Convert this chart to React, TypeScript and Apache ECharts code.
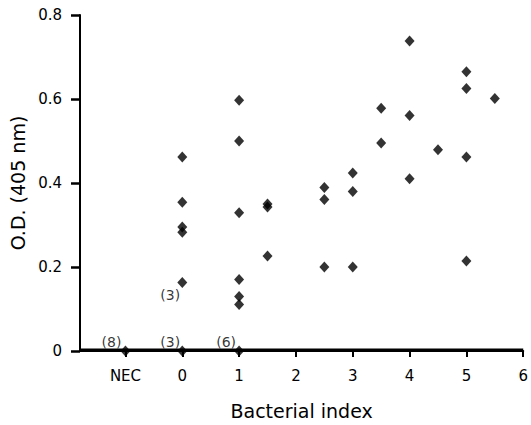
import React, { useEffect, useRef } from "react";
import * as echarts from "echarts";

// Bacterial index (NEC shown at -1) and O.D. readings
const pointX: number[] = [
  -1,
  0, 0, 0, 0, 0, 0,
  1, 1, 1, 1, 1, 1, 1,
  1.5, 1.5, 1.5,
  2.5, 2.5, 2.5,
  3, 3, 3,
  3.5, 3.5,
  4, 4, 4,
  4.5,
  5, 5, 5, 5,
  5.5,
];
const pointY: number[] = [
  0,
  0.462, 0.354, 0.295, 0.283, 0.163, 0,
  0.597, 0.5, 0.329, 0.17, 0.13, 0.111, 0,
  0.35, 0.343, 0.226,
  0.389, 0.361, 0.2,
  0.424, 0.38, 0.2,
  0.578, 0.495,
  0.738, 0.561, 0.41,
  0.479,
  0.665, 0.625, 0.462, 0.214,
  0.601,
];

const xTickValues: number[] = [-1, 0, 1, 2, 3, 4, 5, 6];
const xTickLabels: string[] = ["NEC", "0", "1", "2", "3", "4", "5", "6"];

// counts of overlapping points
const noteX: number[] = [-1, 0, 1, 0];
const noteY: number[] = [0, 0, 0, 0.163];
const noteText: string[] = ["(8)", "(3)", "(6)", "(3)"];

export default function App() {
  const ref = useRef<HTMLDivElement>(null);

  useEffect(() => {
    document.body.style.margin = "0";
    if (!ref.current) return;
    const chart = echarts.init(ref.current, undefined, { renderer: "svg" });
    const font = "DejaVu Sans";
    const ink = "#000000";
    const xMin = -1.8;
    const xMax = 6;
    const noteOffsets: number[][] = [
      [-14, -9],
      [-12, -9],
      [-13, -9],
      [-12, 12],
    ];
    chart.setOption({
      animation: false,
      grid: { left: 80, right: 3, top: 15, bottom: 71 },
      xAxis: {
        type: "value",
        min: xMin,
        max: xMax,
        name: "Bacterial index",
        nameLocation: "middle",
        nameGap: 50,
        nameTextStyle: { color: ink, fontSize: 19, fontFamily: font },
        axisLine: { show: true, onZero: false, lineStyle: { color: ink, width: 2 } },
        axisTick: {
          show: true,
          length: 6,
          customValues: xTickValues,
          lineStyle: { color: ink, width: 2 },
        },
        axisLabel: {
          customValues: xTickValues,
          color: ink,
          fontSize: 15,
          fontFamily: font,
          margin: 17,
          formatter: (v: number) => xTickLabels[xTickValues.indexOf(v)] ?? "",
        },
        splitLine: { show: false },
      },
      yAxis: {
        type: "value",
        min: 0,
        max: 0.8,
        interval: 0.2,
        name: "O.D. (405 nm)",
        nameLocation: "middle",
        nameGap: 50,
        nameTextStyle: { color: ink, fontSize: 19, fontFamily: font },
        axisLine: { show: true, onZero: false, lineStyle: { color: ink, width: 2 } },
        axisTick: { show: true, length: 9, lineStyle: { color: ink, width: 2.5 } },
        axisLabel: {
          color: ink,
          fontSize: 15,
          fontFamily: font,
          margin: 18,
          formatter: (v: number) => (v === 0 ? "0" : v.toFixed(1)),
        },
        splitLine: { show: false },
      },
      series: [
        {
          type: "scatter",
          symbol: "diamond",
          symbolSize: [10, 11],
          itemStyle: { color: ink },
          data: pointX.map((x, i) => [x, pointY[i]]),
          markArea: {
            silent: true,
            itemStyle: { color: ink },
            data: [[{ xAxis: xMin, yAxis: 0 }, { xAxis: xMax, yAxis: 0.006 }]],
          },
        },
        {
          type: "scatter",
          symbolSize: 0,
          silent: true,
          data: noteX.map((x, i) => ({
            value: [x, noteY[i]],
            label: { offset: noteOffsets[i] },
          })),
          label: {
            show: true,
            position: "inside",
            color: ink,
            textBorderWidth: 0,
            fontSize: 14,
            fontFamily: font,
            formatter: (p: any) => noteText[p.dataIndex],
          },
        },
      ],
    });
    return () => chart.dispose();
  }, []);

  return <div ref={ref} style={{ width: 531, height: 425 }} />;
}
